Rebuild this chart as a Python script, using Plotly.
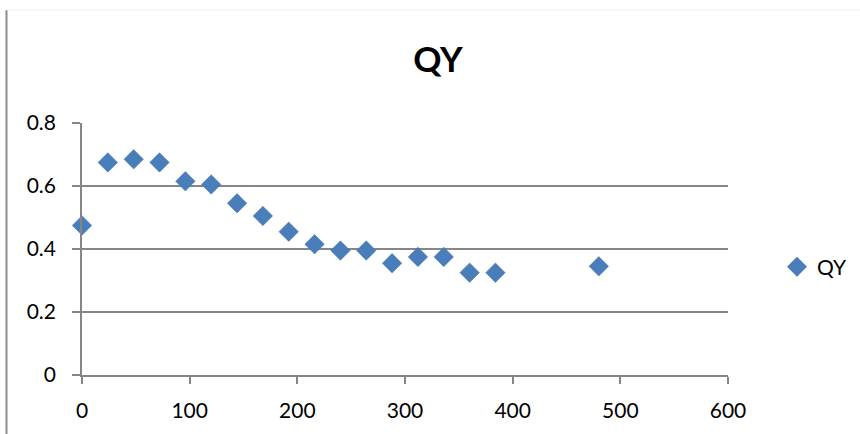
import plotly.graph_objects as go

# Data
time_vals = [0, 24, 48, 72, 96, 120, 144, 168, 192, 216, 240, 264, 288, 312, 336, 360, 384, 480]
qy_vals = [0.475, 0.675, 0.685, 0.675, 0.615, 0.605, 0.545, 0.505, 0.455, 0.415,
           0.395, 0.395, 0.355, 0.375, 0.375, 0.325, 0.325, 0.345]
series_name = "QY"
chart_title = "QY"
x_ticks = [0, 100, 200, 300, 400, 500, 600]
y_ticks = [0, 0.2, 0.4, 0.6, 0.8]
y_tick_text = ["0", "0.2", "0.4", "0.6", "0.8"]

FONT = "Lato, Calibri, Carlito, sans-serif"
GRID = "#868686"
BLUE = "#4a7ebb"

W, H = 860, 434
L, R, T, B = 82, 132, 123, 59
pw, ph = W - L - R, H - T - B

def px_x(p):
    return (p - L) / pw

def px_y(p):
    return (H - B - p) / ph

fig = go.Figure()
fig.add_trace(go.Scatter(
    x=time_vals, y=qy_vals, mode="markers", name=series_name,
    marker=dict(symbol="diamond", size=15, color=BLUE,
                line=dict(color="#4577b3", width=0.5)),
    cliponaxis=False,
    showlegend=True,
))

fig.update_layout(
    width=W, height=H,
    margin=dict(l=L, r=R, t=T, b=B, autoexpand=False),
    paper_bgcolor="white", plot_bgcolor="white",
    font=dict(family=FONT, color="black", size=21),
    title=dict(text="<b>" + chart_title + "</b>", x=438 / W, xanchor="center",
               y=1 - 60 / H, yanchor="middle", yref="container", xref="container",
               font=dict(family=FONT, size=35, color="black")),
    xaxis=dict(range=[0, 600], tickvals=x_ticks, showgrid=False, zeroline=False,
               showline=True, linecolor=GRID, linewidth=1.6,
               ticks="outside", ticklen=7, tickwidth=1.6, tickcolor=GRID,
               ticklabelstandoff=9, tickfont=dict(size=21), automargin=False),
    yaxis=dict(range=[0, 0.8], tickvals=y_ticks, ticktext=y_tick_text,
               showgrid=True, gridcolor=GRID, gridwidth=1.6, zeroline=False,
               showline=True, linecolor=GRID, linewidth=1.6,
               ticks="outside", ticklen=8, tickwidth=1.6, tickcolor=GRID,
               ticklabelstandoff=12, tickfont=dict(size=21), automargin=False),
    legend=dict(x=px_x(777), xanchor="left", y=px_y(267), yanchor="middle",
                font=dict(size=21), bgcolor="rgba(0,0,0,0)", borderwidth=0),
    shapes=[
        dict(type="line", xref="paper", yref="paper",
             x0=px_x(6.5), x1=px_x(6.5), y0=px_y(10), y1=px_y(434),
             line=dict(color="#8c8c8c", width=2)),
        dict(type="line", xref="paper", yref="paper",
             x0=px_x(6.5), x1=px_x(860), y0=px_y(10), y1=px_y(10),
             line=dict(color="#eeeeee", width=1)),
    ],
)

fig.write_html("out.html")
